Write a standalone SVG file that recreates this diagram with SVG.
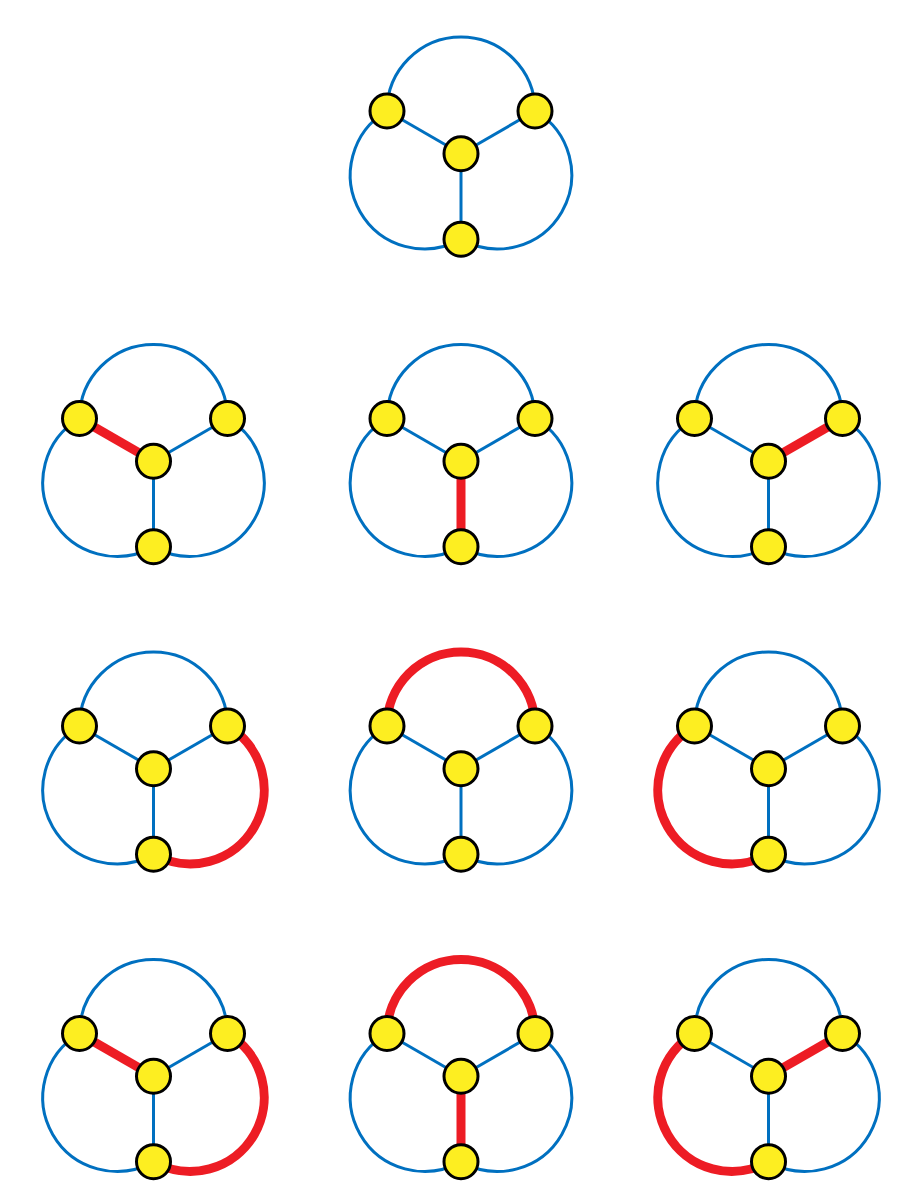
<svg xmlns="http://www.w3.org/2000/svg" width="923" height="1200" viewBox="0 0 923 1200">
<style>
.e{fill:none;stroke:#0070c0;stroke-width:3}
.r{fill:none;stroke:#ed1c24;stroke-width:9}
.n{fill:#fdee21;stroke:#000;stroke-width:3}
</style>
<rect width="923" height="1200" fill="#fff"/>
<g id="connectors">
<g transform="translate(461,111)">
<path class="e" d="M-74 0L0 42.72"/><path class="e" d="M74 0L0 42.72"/><path class="e" d="M0 42.72L0 128.17"/>
<path class="e" d="M-74 0A74 74 0 0 1 74 0"/><path class="e" d="M0 128.17A74 74 0 0 1 -74 0"/><path class="e" d="M74 0A74 74 0 0 1 0 128.17"/>
</g>
<g transform="translate(153.5,418.5)">
<path class="r" d="M-74 0L0 42.72"/><path class="e" d="M74 0L0 42.72"/><path class="e" d="M0 42.72L0 128.17"/>
<path class="e" d="M-74 0A74 74 0 0 1 74 0"/><path class="e" d="M0 128.17A74 74 0 0 1 -74 0"/><path class="e" d="M74 0A74 74 0 0 1 0 128.17"/>
</g>
<g transform="translate(461,418.5)">
<path class="e" d="M-74 0L0 42.72"/><path class="e" d="M74 0L0 42.72"/><path class="r" d="M0 42.72L0 128.17"/>
<path class="e" d="M-74 0A74 74 0 0 1 74 0"/><path class="e" d="M0 128.17A74 74 0 0 1 -74 0"/><path class="e" d="M74 0A74 74 0 0 1 0 128.17"/>
</g>
<g transform="translate(768.5,418.5)">
<path class="e" d="M-74 0L0 42.72"/><path class="r" d="M74 0L0 42.72"/><path class="e" d="M0 42.72L0 128.17"/>
<path class="e" d="M-74 0A74 74 0 0 1 74 0"/><path class="e" d="M0 128.17A74 74 0 0 1 -74 0"/><path class="e" d="M74 0A74 74 0 0 1 0 128.17"/>
</g>
<g transform="translate(153.5,726)">
<path class="e" d="M-74 0L0 42.72"/><path class="e" d="M74 0L0 42.72"/><path class="e" d="M0 42.72L0 128.17"/>
<path class="e" d="M-74 0A74 74 0 0 1 74 0"/><path class="e" d="M0 128.17A74 74 0 0 1 -74 0"/><path class="r" d="M74 0A74 74 0 0 1 0 128.17"/>
</g>
<g transform="translate(461,726)">
<path class="e" d="M-74 0L0 42.72"/><path class="e" d="M74 0L0 42.72"/><path class="e" d="M0 42.72L0 128.17"/>
<path class="r" d="M-74 0A74 74 0 0 1 74 0"/><path class="e" d="M0 128.17A74 74 0 0 1 -74 0"/><path class="e" d="M74 0A74 74 0 0 1 0 128.17"/>
</g>
<g transform="translate(768.5,726)">
<path class="e" d="M-74 0L0 42.72"/><path class="e" d="M74 0L0 42.72"/><path class="e" d="M0 42.72L0 128.17"/>
<path class="e" d="M-74 0A74 74 0 0 1 74 0"/><path class="r" d="M0 128.17A74 74 0 0 1 -74 0"/><path class="e" d="M74 0A74 74 0 0 1 0 128.17"/>
</g>
<g transform="translate(153.5,1033.5)">
<path class="r" d="M-74 0L0 42.72"/><path class="e" d="M74 0L0 42.72"/><path class="e" d="M0 42.72L0 128.17"/>
<path class="e" d="M-74 0A74 74 0 0 1 74 0"/><path class="e" d="M0 128.17A74 74 0 0 1 -74 0"/><path class="r" d="M74 0A74 74 0 0 1 0 128.17"/>
</g>
<g transform="translate(461,1033.5)">
<path class="e" d="M-74 0L0 42.72"/><path class="e" d="M74 0L0 42.72"/><path class="r" d="M0 42.72L0 128.17"/>
<path class="r" d="M-74 0A74 74 0 0 1 74 0"/><path class="e" d="M0 128.17A74 74 0 0 1 -74 0"/><path class="e" d="M74 0A74 74 0 0 1 0 128.17"/>
</g>
<g transform="translate(768.5,1033.5)">
<path class="e" d="M-74 0L0 42.72"/><path class="r" d="M74 0L0 42.72"/><path class="e" d="M0 42.72L0 128.17"/>
<path class="e" d="M-74 0A74 74 0 0 1 74 0"/><path class="r" d="M0 128.17A74 74 0 0 1 -74 0"/><path class="e" d="M74 0A74 74 0 0 1 0 128.17"/>
</g>
</g>
<g id="nodes">
<g transform="translate(461,111)"><g id="g0-l"><circle class="n" cx="-74" cy="0" r="17"/></g><g id="g0-r"><circle class="n" cx="74" cy="0" r="17"/></g><g id="g0-c"><circle class="n" cx="0" cy="42.72" r="17"/></g><g id="g0-b"><circle class="n" cx="0" cy="128.17" r="17"/></g></g>
<g transform="translate(153.5,418.5)"><g id="g1-l"><circle class="n" cx="-74" cy="0" r="17"/></g><g id="g1-r"><circle class="n" cx="74" cy="0" r="17"/></g><g id="g1-c"><circle class="n" cx="0" cy="42.72" r="17"/></g><g id="g1-b"><circle class="n" cx="0" cy="128.17" r="17"/></g></g>
<g transform="translate(461,418.5)"><g id="g2-l"><circle class="n" cx="-74" cy="0" r="17"/></g><g id="g2-r"><circle class="n" cx="74" cy="0" r="17"/></g><g id="g2-c"><circle class="n" cx="0" cy="42.72" r="17"/></g><g id="g2-b"><circle class="n" cx="0" cy="128.17" r="17"/></g></g>
<g transform="translate(768.5,418.5)"><g id="g3-l"><circle class="n" cx="-74" cy="0" r="17"/></g><g id="g3-r"><circle class="n" cx="74" cy="0" r="17"/></g><g id="g3-c"><circle class="n" cx="0" cy="42.72" r="17"/></g><g id="g3-b"><circle class="n" cx="0" cy="128.17" r="17"/></g></g>
<g transform="translate(153.5,726)"><g id="g4-l"><circle class="n" cx="-74" cy="0" r="17"/></g><g id="g4-r"><circle class="n" cx="74" cy="0" r="17"/></g><g id="g4-c"><circle class="n" cx="0" cy="42.72" r="17"/></g><g id="g4-b"><circle class="n" cx="0" cy="128.17" r="17"/></g></g>
<g transform="translate(461,726)"><g id="g5-l"><circle class="n" cx="-74" cy="0" r="17"/></g><g id="g5-r"><circle class="n" cx="74" cy="0" r="17"/></g><g id="g5-c"><circle class="n" cx="0" cy="42.72" r="17"/></g><g id="g5-b"><circle class="n" cx="0" cy="128.17" r="17"/></g></g>
<g transform="translate(768.5,726)"><g id="g6-l"><circle class="n" cx="-74" cy="0" r="17"/></g><g id="g6-r"><circle class="n" cx="74" cy="0" r="17"/></g><g id="g6-c"><circle class="n" cx="0" cy="42.72" r="17"/></g><g id="g6-b"><circle class="n" cx="0" cy="128.17" r="17"/></g></g>
<g transform="translate(153.5,1033.5)"><g id="g7-l"><circle class="n" cx="-74" cy="0" r="17"/></g><g id="g7-r"><circle class="n" cx="74" cy="0" r="17"/></g><g id="g7-c"><circle class="n" cx="0" cy="42.72" r="17"/></g><g id="g7-b"><circle class="n" cx="0" cy="128.17" r="17"/></g></g>
<g transform="translate(461,1033.5)"><g id="g8-l"><circle class="n" cx="-74" cy="0" r="17"/></g><g id="g8-r"><circle class="n" cx="74" cy="0" r="17"/></g><g id="g8-c"><circle class="n" cx="0" cy="42.72" r="17"/></g><g id="g8-b"><circle class="n" cx="0" cy="128.17" r="17"/></g></g>
<g transform="translate(768.5,1033.5)"><g id="g9-l"><circle class="n" cx="-74" cy="0" r="17"/></g><g id="g9-r"><circle class="n" cx="74" cy="0" r="17"/></g><g id="g9-c"><circle class="n" cx="0" cy="42.72" r="17"/></g><g id="g9-b"><circle class="n" cx="0" cy="128.17" r="17"/></g></g>
</g>
</svg>
